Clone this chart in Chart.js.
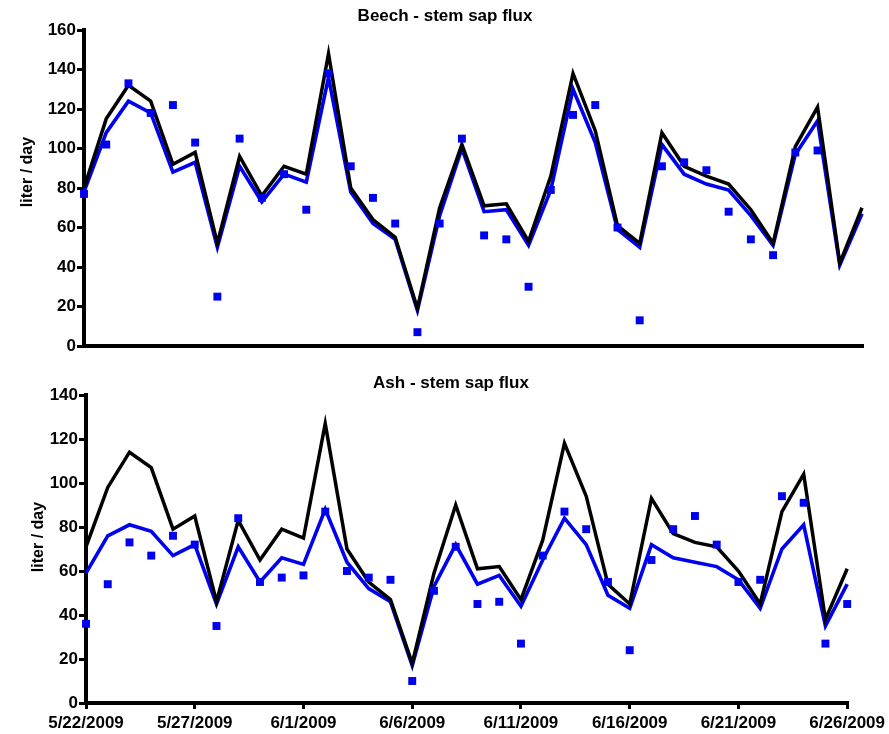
<!DOCTYPE html>
<html>
<head>
<meta charset="utf-8">
<script src="https://cdn.jsdelivr.net/npm/chart.js@4.4.1/dist/chart.umd.min.js"></script>
<style>
  html, body { margin: 0; padding: 0; background: #fff; }
  #wrap { position: relative; width: 889px; height: 734px; }
  .panel { position: absolute; left: 0; width: 889px; }
  #beechBox { top: 0; height: 370px; }
  #ashBox { top: 370px; height: 364px; }
</style>
</head>
<body>
<div id="wrap">
  <div class="panel" id="beechBox"><canvas id="chartBeech"></canvas></div>
  <div class="panel" id="ashBox"><canvas id="chartAsh"></canvas></div>
</div>
<script>
// Dny měření 5/22/2009 – 6/26/2009
const dates = [
  '5/22/2009', '5/23/2009', '5/24/2009', '5/25/2009', '5/26/2009', '5/27/2009', '5/28/2009',
  '5/29/2009', '5/30/2009', '5/31/2009', '6/1/2009', '6/2/2009', '6/3/2009', '6/4/2009',
  '6/5/2009', '6/6/2009', '6/7/2009', '6/8/2009', '6/9/2009', '6/10/2009', '6/11/2009',
  '6/12/2009', '6/13/2009', '6/14/2009', '6/15/2009', '6/16/2009', '6/17/2009', '6/18/2009',
  '6/19/2009', '6/20/2009', '6/21/2009', '6/22/2009', '6/23/2009', '6/24/2009', '6/25/2009',
  '6/26/2009',
];

// Beech (buk)
const beechBlack = [80, 115, 132, 124, 92, 98, 52, 96, 76, 91, 87, 148, 80, 64, 55, 19, 70, 102, 71, 72, 53, 86, 138, 109, 61, 52, 108, 91, 86, 82, 69, 52, 101, 121, 42, 70];
const beechBlue = [78, 108, 124, 118, 88, 93, 50, 91, 73, 87, 83, 136, 78, 62, 54, 18, 66, 100, 68, 69, 51, 79, 130, 103, 59, 50, 102, 87, 82, 79, 66, 51, 97, 114, 41, 67];
const beechObs = [77, 102, 133, 118, 122, 103, 25, 105, 75, 87, 69, 138, 91, 75, 62, 7, 62, 105, 56, 54, 30, 79, 117, 122, 60, 13, 91, 93, 89, 68, 54, 46, 98, 99, null, null];

// Ash (jasan)
const ashBlack = [71, 98, 114, 107, 79, 85, 46, 83, 65, 79, 75, 127, 70, 55, 47, 18, 59, 90, 61, 62, 47, 74, 118, 94, 54, 45, 93, 77, 73, 71, 60, 45, 87, 104, 38, 61];
const ashBlue = [59, 76, 81, 78, 67, 72, 45, 71, 55, 66, 63, 88, 64, 52, 46, 17, 53, 72, 54, 58, 44, 65, 84, 72, 49, 43, 72, 66, 64, 62, 56, 43, 70, 81, 35, 54];
const ashObs = [36, 54, 73, 67, 76, 72, 35, 84, 55, 57, 58, 87, 60, 57, 56, 10, 51, 71, 45, 46, 27, 67, 87, 79, 55, 24, 65, 79, 85, 72, 55, 56, 94, 91, 27, 45];

const BLUE = '#0000f0';
const FONT = 'Liberation Sans, Arial, Helvetica, sans-serif';

Chart.defaults.font.family = FONT;
Chart.defaults.color = '#000';

// Popisky kreslené na pevné místo (nadpis panelu + popis osy y).
const panelText = {
  id: 'panelText',
  afterDraw(chart, args, opts) {
    const ctx = chart.ctx;
    ctx.save();
    ctx.fillStyle = '#000';
    ctx.textAlign = 'center';
    ctx.textBaseline = 'middle';
    ctx.font = `bold 17px ${FONT}`;
    ctx.fillText(opts.title, opts.titleX, opts.titleY);
    ctx.translate(opts.labelX, opts.labelY);
    ctx.rotate(-Math.PI / 2);
    ctx.font = `bold 16px ${FONT}`;
    ctx.fillText('liter / day', 0, 0);
    ctx.restore();
  },
};

function panel(id, cfg) {
  new Chart(document.getElementById(id), {
    type: 'line',
    data: {
      labels: dates,
      datasets: [
        { data: cfg.obs, showLine: false, pointStyle: 'rect', pointRadius: 5.6, pointHoverRadius: 5.6, pointBorderWidth: 0, backgroundColor: BLUE, borderColor: BLUE, order: 0 },
        { data: cfg.black, borderColor: '#000', borderWidth: 3.5, pointRadius: 0, tension: 0, order: 1 },
        { data: cfg.blue, borderColor: BLUE, borderWidth: 3.6, pointRadius: 0, tension: 0, order: 2 },
      ],
    },
    plugins: [panelText],
    options: {
      responsive: true,
      maintainAspectRatio: false,
      animation: false,
      clip: false,
      layout: { padding: cfg.padding },
      plugins: {
        legend: { display: false },
        tooltip: { enabled: false },
        panelText: cfg.text,
      },
      scales: {
        x: {
          type: 'category',
          offset: false,
          afterFit: (s) => { s.height = cfg.xHeight; },
          afterBuildTicks: (s) => { s.ticks = s.ticks.filter((t) => t.value % 5 === 0); },
          border: { display: true, color: '#000', width: 4 },
          grid: { display: cfg.xTicks, drawOnChartArea: false, drawTicks: true, tickLength: 6, lineWidth: 3, color: '#000' },
          ticks: { display: cfg.xTicks, autoSkip: false, maxRotation: 0, padding: 4, font: { size: 17, weight: 'bold' }, color: '#000' },
        },
        y: {
          min: 0,
          max: cfg.yMax,
          afterFit: (s) => { s.width = cfg.yWidth; },
          border: { display: true, color: '#000', width: 4 },
          grid: { drawOnChartArea: false, drawTicks: true, tickLength: 7, lineWidth: 3, color: '#000' },
          ticks: { stepSize: 20, padding: 1, font: { size: 17, weight: 'bold' }, color: '#000' },
        },
      },
    },
  });
}

panel('chartBeech', {
  black: beechBlack, blue: beechBlue, obs: beechObs,
  yMax: 160, yWidth: 84, xHeight: 24, xTicks: false,
  padding: { top: 30, right: 27, left: 0, bottom: 0 },
  text: { title: 'Beech - stem sap flux', titleX: 445, titleY: 16, labelX: 28, labelY: 172 },
});

panel('chartAsh', {
  black: ashBlack, blue: ashBlue, obs: ashObs,
  yMax: 140, yWidth: 86, xHeight: 31, xTicks: true,
  padding: { top: 25, right: 40, left: 0, bottom: 0 },
  text: { title: 'Ash - stem sap flux', titleX: 451, titleY: 13, labelX: 39, labelY: 167 },
});
</script>
</body>
</html>
